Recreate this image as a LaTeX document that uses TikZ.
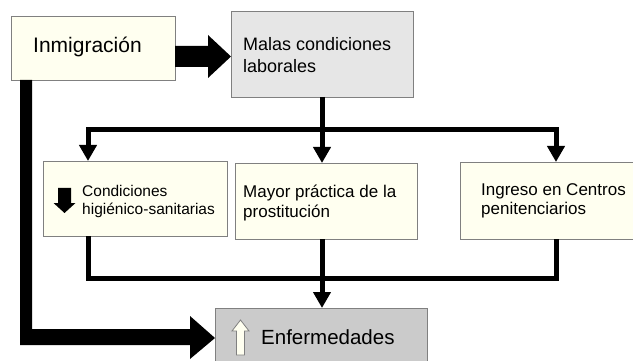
\documentclass[tikz,border=0pt]{standalone}
\usepackage{fontspec}
\setmainfont{Liberation Sans}
\usetikzlibrary{arrows.meta,calc}
\definecolor{cream}{HTML}{FFFFF0}
\definecolor{lgray}{HTML}{E6E6E6}
\definecolor{dgray}{HTML}{CBCBCB}
\definecolor{edge}{HTML}{808080}
\begin{document}
\begin{tikzpicture}[x=1pt,y=-1pt,
  box/.style={draw=edge,line width=0.9pt,anchor=north west,inner sep=0pt,outer sep=0pt},
  lbl/.style={anchor=west,inner sep=0pt,align=left,text=black},
  conn/.style={line width=5pt,line join=miter,draw=black},
  tip/.style={-{Triangle[length=16pt,width=17pt]}},
  tips/.style={{Triangle[length=16pt,width=17pt]}-{Triangle[length=16pt,width=17pt]}}]
\useasboundingbox (0,0) rectangle (633,361);

% boxes
\node[box,fill=cream,minimum width=164pt,minimum height=64pt] (inm) at (11,16) {};
\node[box,fill=lgray,minimum width=182pt,minimum height=86pt] (mal) at (231,11) {};
\node[box,fill=cream,minimum width=184pt,minimum height=75pt] (c1) at (43,161) {};
\node[box,fill=cream,minimum width=182pt,minimum height=76pt] (c2) at (235,163) {};
\node[box,fill=cream,minimum width=185pt,minimum height=77pt] (c3) at (460,162) {};
\node[box,fill=dgray,minimum width=212pt,minimum height=60pt] (enf) at (215,308) {};

% labels
\node[lbl,font=\fontsize{21}{25}\selectfont] (inmt) at (33,46.5) {Inmigración};
\node[lbl,font=\fontsize{18}{22}\selectfont] (malt) at (243,55) {Malas condiciones\\laborales};
\node[lbl,font=\fontsize{15.5}{18}\selectfont] (c1t) at (82,201) {Condiciones\\higiénico-sanitarias};
\node[lbl,font=\fontsize{17}{19.5}\selectfont] (c2t) at (243,203) {Mayor práctica de la\\prostitución};
\node[lbl,font=\fontsize{17}{18.5}\selectfont] (c3t) at (481,201) {Ingreso en Centros\\penitenciarios};
\node[lbl,font=\fontsize{20.5}{24}\selectfont] (enft) at (261,337) {Enfermedades};

% icons
\fill[black] (58,188) -- (71,188) -- (71,203) -- (75.5,203) -- (64.5,213) -- (53.5,203) -- (58,203) -- cycle;
\filldraw[fill=cream,draw=edge,line width=0.8pt] (236.5,355) -- (236.5,331) -- (232,331) -- (240.5,320) -- (249,331) -- (244.5,331) -- (244.5,355) -- cycle;

% thin connectors
\coordinate (t1) at (88,130);
\coordinate (t3) at (556,130);
\coordinate (b1) at (88,278);
\coordinate (b3) at (556,278);
\draw[conn,tip] (mal.south) -- (c2.north -| mal.south);
\draw[conn,tips] (t1 |- c1.north) -- (t1) -- (t3) -- (t3 |- c3.north);
\draw[conn] (c1.south -| b1) -- (b1) -- (b3) -- (c3.south -| b3);
\draw[conn,tip] (c2.south -| mal.south) -- (enf.north -| mal.south);

% thick arrows
\fill[black] ($(inm.east)+(0,-2)$) -- (208,46) -- (208,35) -- ($(mal.west)+(0,2.5)$) -- (208,78) -- (208,67) -- ($(inm.east)+(0,19)$) -- cycle;
\fill[black] ($(inm.south west)+(9,0)$) -- (20,345) -- (190,345) -- (190,359) -- (enf.west) -- (190,316) -- (190,329) -- (32,329) -- ($(inm.south west)+(21,0)$) -- cycle;
\end{tikzpicture}
\end{document}
